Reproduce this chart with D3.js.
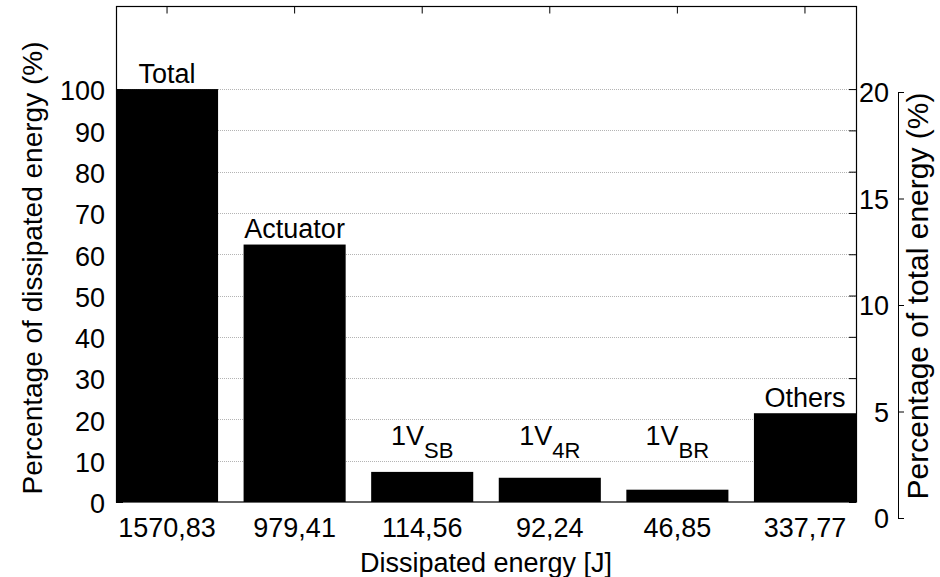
<!DOCTYPE html>
<html>
<head>
<meta charset="utf-8">
<script src="https://cdn.jsdelivr.net/npm/d3@7"></script>
<style>
  body { margin: 0; background: #fff; }
  svg text { font-family: "Liberation Sans", Arial, sans-serif; fill: #000; }
</style>
</head>
<body>
<div id="chart"></div>
<script>
// bar data
var categories = ["Total", "Actuator", "1V_SB", "1V_4R", "1V_BR", "Others"];
var labelMain = ["Total", "Actuator", "1V", "1V", "1V", "Others"];
var labelSub = ["", "", "SB", "4R", "BR", ""];
var energyJ = [1570.83, 979.41, 114.56, 92.24, 46.85, 337.77];
var energyLabels = ["1570,83", "979,41", "114,56", "92,24", "46,85", "337,77"];
var percentDissipated = [100, 62.35, 7.29, 5.87, 2.98, 21.50];

// tick values
var leftTicks = [0, 10, 20, 30, 40, 50, 60, 70, 80, 90, 100];
var gridTicks = [10, 20, 30, 40, 50, 60, 70, 80, 90, 100];
var rightTicks = [0, 5, 10, 15, 20];

var W = 940, H = 577,
    plot = { left: 116, right: 856, top: 6.5, bottom: 502 },
    fontSize = 27;

var svg = d3.select("#chart").append("svg")
    .attr("width", W)
    .attr("height", H);

var x = d3.scaleBand()
    .domain(categories)
    .range([plot.left, plot.right])
    .paddingInner(0.2)
    .paddingOuter(0);

var y = d3.scaleLinear()
    .domain([0, 120])
    .range([plot.bottom, plot.top]);

// secondary axis (share of total energy)
var y2 = d3.scaleLinear()
    .domain([0, 20])
    .range([518, 92]);

// grid lines
svg.append("g")
    .selectAll("line")
    .data(gridTicks)
    .enter().append("line")
    .attr("x1", plot.left)
    .attr("x2", plot.right)
    .attr("y1", function (d) { return Math.round(y(d)) + 0.5; })
    .attr("y2", function (d) { return Math.round(y(d)) + 0.5; })
    .attr("stroke", "#b4b4b4")
    .attr("stroke-width", 1)
    .attr("stroke-dasharray", "1,1");

// bars
svg.append("g")
    .selectAll("rect")
    .data(categories)
    .enter().append("rect")
    .attr("x", function (d) { return x(d); })
    .attr("width", x.bandwidth())
    .attr("y", function (d, i) { return y(percentDissipated[i]); })
    .attr("height", function (d, i) { return y(0) - y(percentDissipated[i]); })
    .attr("fill", "#000");

// box
svg.append("rect")
    .attr("x", plot.left + 0.5)
    .attr("y", plot.top)
    .attr("width", plot.right - plot.left)
    .attr("height", plot.bottom - plot.top)
    .attr("fill", "none")
    .attr("stroke", "#000")
    .attr("stroke-width", 1.2);

// left axis, ticks inside
var gLeft = svg.append("g")
    .attr("transform", "translate(" + plot.left + ",0)")
    .call(d3.axisLeft(y).tickValues(leftTicks).tickSizeInner(-7).tickSizeOuter(0).tickPadding(11));

// right edge ticks of the main box
var gRightIn = svg.append("g")
    .attr("transform", "translate(" + plot.right + ",0)")
    .call(d3.axisRight(y).tickValues(leftTicks).tickSizeInner(-7).tickSizeOuter(0).tickFormat(""));

// top ticks
var gTop = svg.append("g")
    .attr("transform", "translate(0," + plot.top + ")")
    .call(d3.axisTop(x).tickSizeInner(-7).tickSizeOuter(0).tickFormat(""));

// bottom axis with energy values
var gBottom = svg.append("g")
    .attr("transform", "translate(0," + plot.bottom + ")")
    .call(d3.axisBottom(x).tickSizeInner(-7).tickSizeOuter(0).tickPadding(16)
        .tickFormat(function (d, i) { return energyLabels[i]; }));

[gLeft, gRightIn, gTop, gBottom].forEach(function (g) {
    g.select(".domain").remove();
    g.selectAll(".tick line").attr("stroke", "#000");
    g.selectAll("text").attr("font-size", fontSize).attr("font-family", null);
});
gLeft.selectAll(".tick text").attr("dy", "0.40em");

// secondary axis
var gRight = svg.append("g")
    .attr("transform", "translate(898,0)")
    .call(d3.axisLeft(y2).tickValues(rightTicks).tickSizeInner(-6).tickSizeOuter(0).tickPadding(9));
gRight.select(".domain").attr("stroke", "#000");
gRight.selectAll(".tick line").attr("stroke", "#000");
gRight.selectAll("text").attr("font-size", fontSize).attr("font-family", null).attr("dy", "0.36em");

// bar labels
var labels = svg.append("g")
    .selectAll("text")
    .data(categories)
    .enter().append("text")
    .attr("text-anchor", "middle")
    .attr("font-size", fontSize)
    .attr("x", function (d) { return x(d) + x.bandwidth() / 2; })
    .attr("y", function (d, i) { return y(Math.max(percentDissipated[i] + 1.5, 13.8)); });

labels.append("tspan")
    .text(function (d, i) { return labelMain[i]; });
labels.filter(function (d, i) { return labelSub[i] !== ""; })
    .append("tspan")
    .attr("dy", 13)
    .attr("font-size", 22)
    .text(function (d) { return labelSub[categories.indexOf(d)]; });

// axis titles
svg.append("text")
    .attr("transform", "translate(42,268) rotate(-90)")
    .attr("text-anchor", "middle")
    .attr("font-size", 28)
    .text("Percentage of dissipated energy (%)");

svg.append("text")
    .attr("transform", "translate(928,296) rotate(-90)")
    .attr("text-anchor", "middle")
    .attr("font-size", 30)
    .text("Percentage of total energy (%)");

svg.append("text")
    .attr("x", (plot.left + plot.right) / 2)
    .attr("y", 572)
    .attr("text-anchor", "middle")
    .attr("font-size", fontSize)
    .text("Dissipated energy [J]");
</script>
</body>
</html>
